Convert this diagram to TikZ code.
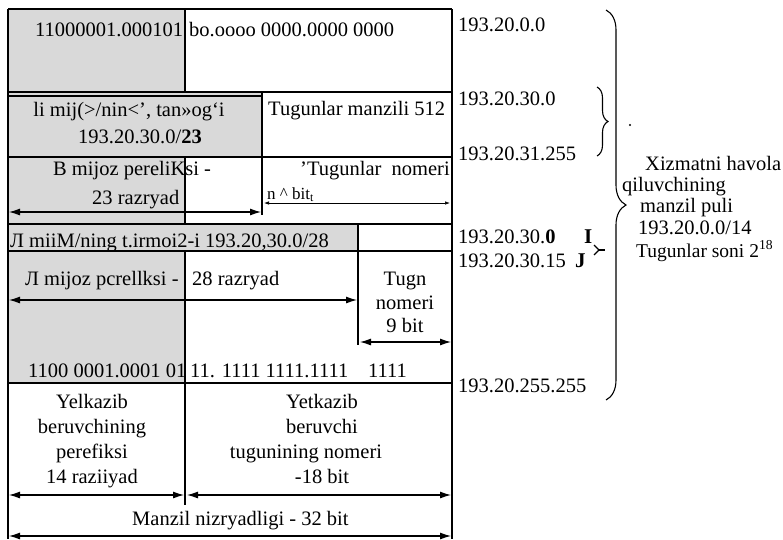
\documentclass[tikz,border=0pt]{standalone}
\usepackage{fontspec}
\setmainfont{Liberation Serif}
\usetikzlibrary{arrows.meta,decorations.pathreplacing}
\begin{document}
\begin{tikzpicture}[x=1pt,y=-1pt,
  frame/.style={line width=1.2pt},
  shadefill/.style={fill=black!15},
  dim/.style={line width=1.1pt,{Latex[length=11pt,width=7pt]}-{Latex[length=11pt,width=7pt]}},
  thindim/.style={line width=0.7pt,{Latex[length=5pt,width=3.5pt]}-{Latex[length=5pt,width=3.5pt]}},
  txt/.style={font=\fontsize{20.5}{24}\selectfont, inner sep=0pt, anchor=base west},
  ctxt/.style={font=\fontsize{20.5}{24}\selectfont, inner sep=0pt, anchor=base},
  bracestyle/.style={line width=1.1pt, decorate},
]
\useasboundingbox (0,0) rectangle (783,539);
\fill[white] (0,0) rectangle (783,539);

% shaded areas
\fill[shadefill] (8,9) rectangle (185,383);
\fill[shadefill] (185,92) rectangle (262,157);
\fill[shadefill] (185,224) rectangle (358,251);

% frame lines
\draw[frame] (8,9) -- (452,9);
\draw[frame] (8,9) -- (8,539);
\draw[frame] (452,9) -- (452,539);
\draw[frame] (8,92) -- (452,92);
\draw[frame] (8,96) -- (262,96);
\draw[frame] (8,157) -- (452,157);
\draw[frame] (8,224) -- (452,224);
\draw[frame] (8,251) -- (452,251);
\draw[frame] (8,383) -- (452,383);
\draw[frame] (185,9) -- (185,92);
\draw[frame] (185,157) -- (185,224);
\draw[frame] (185,251) -- (185,505);
\draw[frame] (262,92) -- (262,215);
\draw[frame] (358,224) -- (358,345);

% dimension arrow end points
\coordinate (a1l) at (9,212);   \coordinate (a1r) at (261,212);
\coordinate (a2l) at (264,203); \coordinate (a2r) at (450,203);
\coordinate (a3l) at (9,300);   \coordinate (a3r) at (357,300);
\coordinate (a4l) at (360,342); \coordinate (a4r) at (451,342);
\coordinate (a5l) at (9,495);   \coordinate (a5r) at (184,495);
\coordinate (a6l) at (187,495); \coordinate (a6r) at (451,495);
\coordinate (a7l) at (9,536);   \coordinate (a7r) at (451,536);
\draw[dim] (a1l) -- (a1r);
\draw[thindim] (a2l) -- (a2r);
\draw[dim] (a3l) -- (a3r);
\draw[dim] (a4l) -- (a4r);
\draw[dim] (a5l) -- (a5r);
\draw[dim] (a6l) -- (a6r);
\draw[dim] (a7l) -- (a7r);

% row 1
\node[txt] (r1a) at (35,36) {11000001.000101};
\node[txt] (r1b) at (189,36) {bo.oooo 0000.0000 0000};
% row 2
\node[ctxt] (r2a) at (129,116) {li mij(>/nin<’, tan»og‘i};
\node[ctxt] (r2b) at (140,143) {193.20.30.0/\textbf{23}};
\node[txt] (r2c) at (268,115) {Tugunlar manzili 512};
% row 3
\node[txt] (r3a) at (53,175) {B mijoz pereliKsi -};
\node[txt] (r3b) at (92,204) {23 razryad};
\node[txt] (r3c) at (300,175) {’Tugunlar\ \ nomeri};
\node[txt, font=\fontsize{17}{20}\selectfont] (r3d) at (267,199) {n \textasciicircum{} bit\textsubscript{t}};
% row 4
\node[txt] (r4a) at (10,247) {Л miiM/ning t.irmoi2-i 193.20,30.0/28};
% row 5
\node[txt] (r5a) at (25,285) {Л mijoz pcrellksi -};
\node[txt] (r5b) at (192,285) {28 razryad};
\node[ctxt] (r5c) at (405,285) {Tugn};
\node[ctxt] (r5d) at (405,309) {nomeri};
\node[ctxt] (r5e) at (405,332) {9 bit};
\node[txt] (r5f) at (28,377) {1100 0001.0001 01};
\node[txt] (r5g) at (190,377) {11. 1111 1111.1111};
\node[txt] (r5h) at (368,377) {1111};
% row 6
\node[ctxt] (r6a) at (92,408) {Yelkazib};
\node[ctxt] (r6b) at (92,433) {beruvchining};
\node[ctxt] (r6c) at (92,458) {perefiksi};
\node[ctxt] (r6d) at (92,483) {14 raziiyad};
\node[ctxt] (r6e) at (322,408) {Yetkazib};
\node[ctxt] (r6f) at (322,433) {beruvchi};
\node[ctxt] (r6g) at (306,458) {tugunining nomeri};
\node[ctxt] (r6h) at (322,483) {-18 bit};
\node[txt] (r7) at (132,525) {Manzil nizryadligi - 32 bit};

% right-hand address labels
\node[txt] (ad1) at (458,31) {193.20.0.0};
\node[txt] (ad2) at (458,105) {193.20.30.0};
\node[txt] (ad3) at (458,160) {193.20.31.255};
\node[txt] (ad4) at (458,243) {193.20.30.\textbf{0}};
\node[txt] (ad5) at (458,267) {193.20.30.15};
\node[txt] (ad6) at (458,392) {193.20.255.255};
\node[txt, font=\fontsize{21}{24}\selectfont\bfseries] (bI) at (584,243) {I};
\node[txt, font=\fontsize{21}{24}\selectfont\bfseries] (bJ) at (575,267) {J};
\draw[line width=1.1pt] (594,245) -- (599,250) -- (594,255);
\draw[line width=1.1pt] (599,250) -- (605,250);

% braces
\draw[bracestyle, decoration={brace, amplitude=11pt}] (597,87) -- (597,156);
\draw[bracestyle, decoration={brace, amplitude=20pt}] (606,10) -- (606,400);
\fill (630,125) circle (1.2);

% pool description
\node[txt] (p1) at (645,170) {Xizmatni havola};
\node[txt] (p2) at (622,191) {qiluvchining};
\node[txt] (p3) at (640,212) {manzil puli};
\node[txt] (p4) at (638,234) {193.20.0.0/14};
\node[txt, font=\fontsize{19.5}{24}\selectfont] (p5) at (636,257) {Tugunlar soni 2\textsuperscript{18}};
\end{tikzpicture}
\end{document}
